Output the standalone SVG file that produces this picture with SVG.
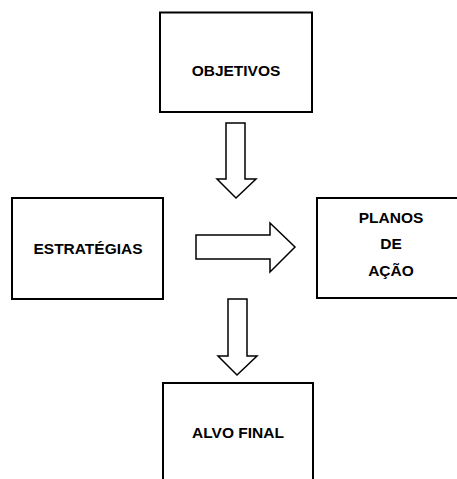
<svg xmlns="http://www.w3.org/2000/svg" width="457" height="479" viewBox="0 0 457 479">
<style>
.box{fill:#fff;stroke:#000;stroke-width:2}
.arr{fill:#fff;stroke:#000;stroke-width:1.5;stroke-linejoin:miter}
.lbl{font-family:"Liberation Sans",Arial,sans-serif;font-weight:bold;font-size:15.5px;fill:#000;text-anchor:middle}
</style>
<rect width="457" height="479" fill="#fff"/>
<g id="objetivos">
<rect class="box" x="160" y="12.5" width="152" height="99.5"/>
<text class="lbl" x="236" y="76">OBJETIVOS</text>
</g>
<g id="estrategias">
<rect class="box" x="12" y="198" width="151" height="101"/>
<text class="lbl" x="88" y="254">ESTRATÉGIAS</text>
</g>
<g id="planos">
<rect class="box" x="317" y="198" width="150" height="100"/>
<text class="lbl" x="391" y="223">PLANOS</text>
<text class="lbl" x="391" y="249">DE</text>
<text class="lbl" x="391" y="276">AÇÃO</text>
</g>
<g id="alvo">
<rect class="box" x="163" y="383" width="150" height="110"/>
<text class="lbl" x="238" y="438">ALVO FINAL</text>
</g>
<g id="connectors">
<polygon class="arr" points="226,123 245,123 245,179 256,179 236,198 217,179 226,179"/>
<polygon class="arr" points="196,235 270,235 270,223 295,247 270,272 270,259 196,259"/>
<polygon class="arr" points="228,299 247,299 247,356 257,356 237,375 218,356 228,356"/>
</g>
</svg>
